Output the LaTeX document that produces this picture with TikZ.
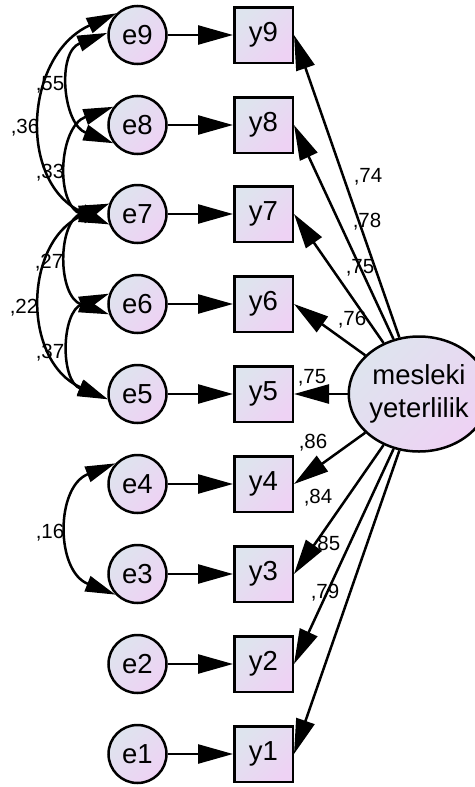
\documentclass[tikz,border=0pt]{standalone}
\usepackage{fontspec}
\setmainfont{Liberation Sans}
\usetikzlibrary{arrows.meta,shapes.geometric}
\definecolor{shadeA}{RGB}{222,228,238}
\definecolor{shadeB}{RGB}{238,210,244}
\newcommand\bigtxt{\fontsize{27.5}{33}\selectfont}
\newcommand\smalltxt{\fontsize{20.5}{24}\selectfont}
\tikzset{
  nodefill/.style={top color=shadeA, bottom color=shadeB, shading angle=45},
  errnode/.style={circle, draw, line width=2.5pt, minimum size=58pt, inner sep=0pt, nodefill, font=\bigtxt},
  obsnode/.style={rectangle, draw, line width=2.5pt, minimum width=58.5pt, minimum height=55.5pt, inner sep=0pt, nodefill, font=\bigtxt},
  latnode/.style={ellipse, draw, line width=2.5pt, minimum width=120pt, minimum height=115pt, inner sep=0pt, nodefill, align=center, font=\bigtxt},
  arr/.style={line width=2.5pt, -{Triangle[length=35pt,width=19pt]}},
  cov/.style={line width=2.5pt, {Triangle[length=30pt,width=16pt]}-{Triangle[length=30pt,width=16pt]}},
  lbl/.style={font=\smalltxt, anchor=base, inner sep=0pt},
}
\begin{document}
\begin{tikzpicture}[x=1pt,y=-1pt]
\useasboundingbox (0,0) rectangle (474,787);
% error terms
\node[errnode] (e9) at (137.5,35) {e9};
\node[errnode] (e8) at (137.5,125) {e8};
\node[errnode] (e7) at (137.5,214) {e7};
\node[errnode] (e6) at (137.5,304) {e6};
\node[errnode] (e5) at (137.5,394) {e5};
\node[errnode] (e4) at (137.5,484) {e4};
\node[errnode] (e3) at (137.5,574) {e3};
\node[errnode] (e2) at (137.5,664) {e2};
\node[errnode] (e1) at (137.5,754) {e1};
% observed
\node[obsnode] (y9) at (263.5,35) {y9};
\node[obsnode] (y8) at (263.5,125) {y8};
\node[obsnode] (y7) at (263.5,214) {y7};
\node[obsnode] (y6) at (263.5,304) {y6};
\node[obsnode] (y5) at (263.5,394) {y5};
\node[obsnode] (y4) at (263.5,484) {y4};
\node[obsnode] (y3) at (263.5,574) {y3};
\node[obsnode] (y2) at (263.5,664) {y2};
\node[obsnode] (y1) at (263.5,754) {y1};
% latent
\node[latnode] (lat) at (419,394) {mesleki\\yeterlilik};
% error arrows
\foreach \i in {1,...,9} { \draw[arr] (e\i) -- (y\i); }
% loadings
\foreach \i in {1,...,9} { \draw[arr] (lat) -- (y\i.east); }
% covariances
\draw[cov] (e9.176) .. controls +(-50.7,19.2) and +(-50.7,-19.2) .. (e8.217);
\draw[cov] (e9.134) .. controls +(-92,41.6) and +(-92,-41.6) .. (e7.200);
\draw[cov] (e8.143) .. controls +(-54.7,19.8) and +(-54.7,-19.8) .. (e7.200);
\draw[cov] (e7.160) .. controls +(-51.9,18.3) and +(-51.9,-18.3) .. (e6.200);
\draw[cov] (e7.160) .. controls +(-86,37.8) and +(-86,-37.8) .. (e5.190);
\draw[cov] (e6.160) .. controls +(-47.9,18.6) and +(-47.9,-18.6) .. (e5.190);
\draw[cov] (e4.137) .. controls +(-60,23.5) and +(-60,-23.5) .. (e3.223);
% loading labels
\node[lbl] (l9) at (368,182) {,74};
\node[lbl] (l8) at (367,227) {,78};
\node[lbl] (l7) at (360,273) {,75};
\node[lbl] (l6) at (352,325) {,76};
\node[lbl] (l5) at (312,383) {,75};
\node[lbl] (l4) at (313,448) {,86};
\node[lbl] (l3) at (318,503) {,84};
\node[lbl] (l2) at (326,550) {,85};
\node[lbl] (l1) at (325,598) {,79};
% covariance labels
\node[lbl] (c98) at (50,90) {,55};
\node[lbl] (c97) at (25,133) {,36};
\node[lbl] (c87) at (50,178) {,33};
\node[lbl] (c76) at (49,268) {,27};
\node[lbl] (c75) at (24,313) {,22};
\node[lbl] (c65) at (50,358) {,37};
\node[lbl] (c43) at (50,538) {,16};
\end{tikzpicture}
\end{document}
